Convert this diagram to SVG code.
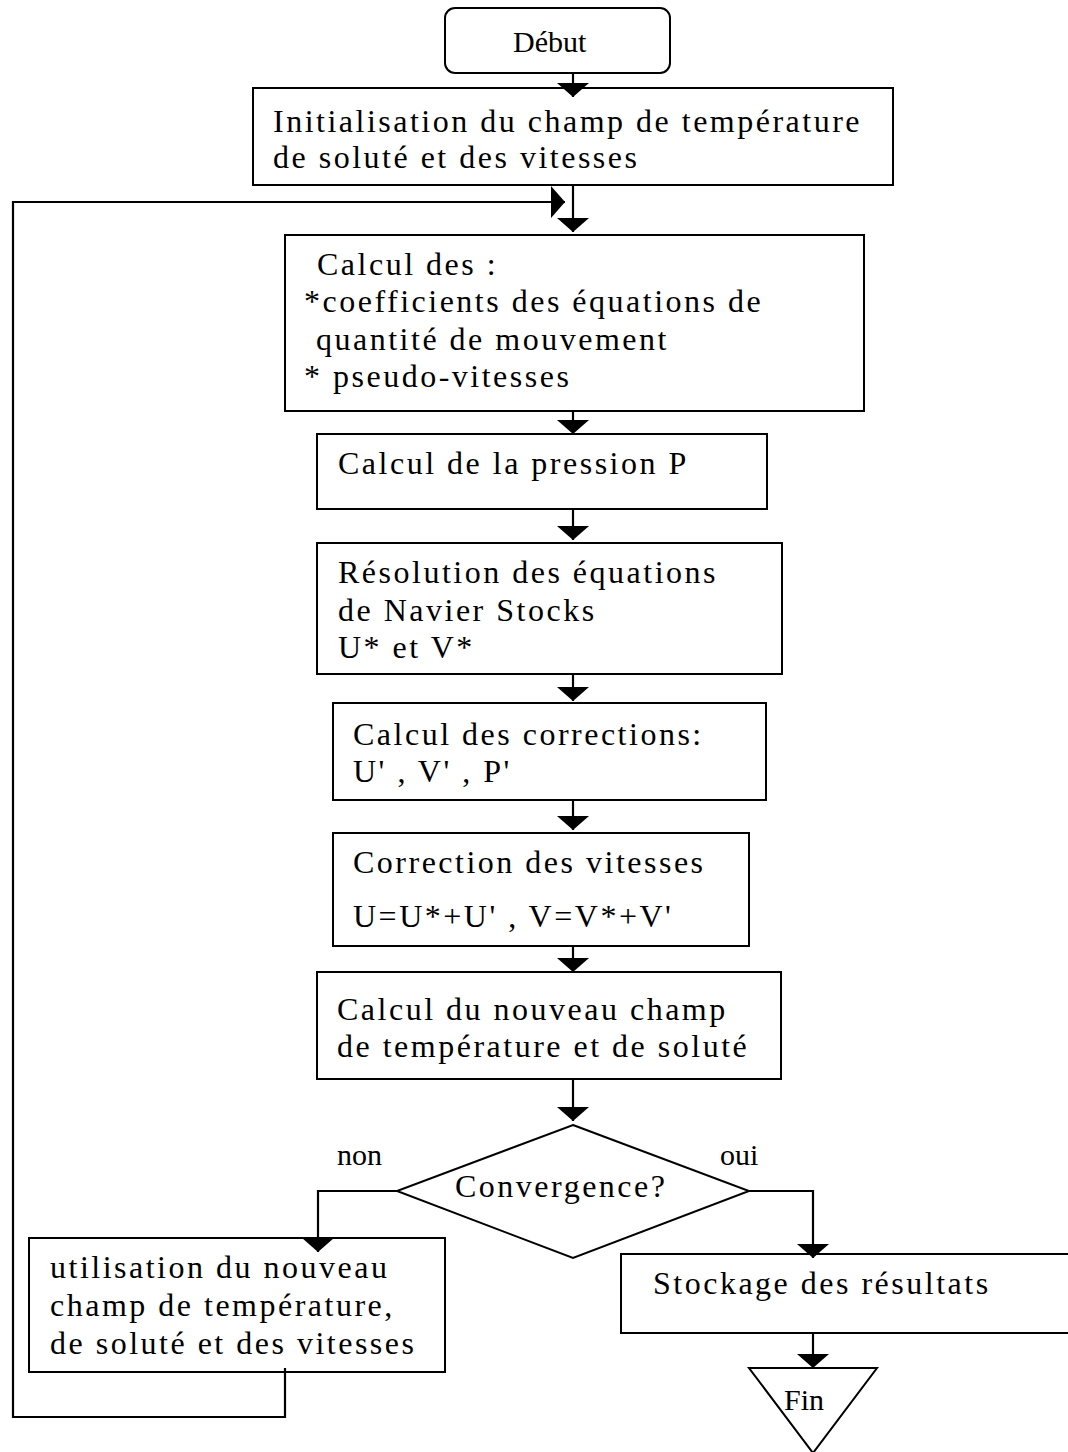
<svg xmlns="http://www.w3.org/2000/svg" width="1068" height="1452" viewBox="0 0 1068 1452">
<style>
  .box { fill: #fff; stroke: #000; stroke-width: 2; }
  .t { font-family: "Liberation Serif", "Times New Roman", serif; font-size: 32px; letter-spacing: 2.5px; fill: #000; }
  .l { font-family: "Liberation Serif", "Times New Roman", serif; font-size: 30px; fill: #000; }
  .c { fill: none; stroke: #000; stroke-width: 2.2; }
</style>
<defs>
  <marker id="ah" viewBox="0 0 14 32" markerWidth="14" markerHeight="32" refX="14" refY="16" orient="auto" markerUnits="userSpaceOnUse">
    <path d="M0,0 L14,16 L0,32 Z" fill="#000"/>
  </marker>
</defs>
<rect width="1068" height="1452" fill="#fff"/>

<g id="debut">
  <rect class="box" x="445" y="8" width="225" height="65" rx="10" ry="10"/>
  <text class="l" x="513" y="52" font-size="32">Début</text>
</g>

<g id="init">
  <rect class="box" x="253" y="88" width="640" height="97"/>
  <text class="t" x="273" y="132">Initialisation du champ de température</text>
  <text class="t" x="273" y="168">de soluté et des vitesses</text>
</g>

<g id="calcul-coeff">
  <rect class="box" x="285" y="235" width="579" height="176"/>
  <text class="t" x="317" y="275">Calcul des :</text>
  <text class="t" x="304" y="312">*coefficients des équations de</text>
  <text class="t" x="316" y="350">quantité de mouvement</text>
  <text class="t" x="304" y="387">* pseudo-vitesses</text>
</g>

<g id="pression">
  <rect class="box" x="317" y="434" width="450" height="75"/>
  <text class="t" x="338" y="474">Calcul de la pression P</text>
</g>

<g id="navier">
  <rect class="box" x="317" y="543" width="465" height="131"/>
  <text class="t" x="338" y="583">Résolution des équations</text>
  <text class="t" x="338" y="621">de Navier Stocks</text>
  <text class="t" x="338" y="658">U* et V*</text>
</g>

<g id="corrections">
  <rect class="box" x="333" y="703" width="433" height="97"/>
  <text class="t" x="353" y="745">Calcul des corrections:</text>
  <text class="t" x="353" y="782">U' , V' , P'</text>
</g>

<g id="correction-vitesses">
  <rect class="box" x="333" y="833" width="416" height="113"/>
  <text class="t" x="353" y="873">Correction des vitesses</text>
  <text class="t" x="353" y="927">U=U*+U' , V=V*+V'</text>
</g>

<g id="nouveau-champ">
  <rect class="box" x="317" y="972" width="464" height="107"/>
  <text class="t" x="337" y="1020">Calcul du nouveau champ</text>
  <text class="t" x="337" y="1057">de température et de soluté</text>
</g>

<g id="convergence">
  <polygon class="box" points="573,1125 749,1191 573,1258 397,1191"/>
  <text class="t" x="455" y="1197" letter-spacing="2.3">Convergence?</text>
  <text class="l" x="337" y="1165">non</text>
  <text class="l" x="720" y="1165">oui</text>
</g>

<g id="utilisation">
  <rect class="box" x="29" y="1238" width="416" height="134"/>
  <text class="t" x="50" y="1278">utilisation du nouveau</text>
  <text class="t" x="50" y="1316">champ de température,</text>
  <text class="t" x="50" y="1354">de soluté et des vitesses</text>
</g>

<g id="stockage">
  <rect class="box" x="621" y="1254" width="460" height="79"/>
  <text class="t" x="653" y="1294">Stockage des résultats</text>
</g>

<g id="fin">
  <polygon class="box" points="749,1368 877,1368 813,1453"/>
  <text class="l" x="784" y="1410" font-size="35">Fin</text>
</g>

<g id="connectors">
  <line class="c" x1="573" y1="73" x2="573" y2="97" marker-end="url(#ah)"/>
  <line class="c" x1="573" y1="185" x2="573" y2="232" marker-end="url(#ah)"/>
  <polyline class="c" points="285,1368 285,1417 13,1417 13,202 565,202" marker-end="url(#ah)"/>
  <line class="c" x1="573" y1="411" x2="573" y2="434" marker-end="url(#ah)"/>
  <line class="c" x1="573" y1="509" x2="573" y2="540" marker-end="url(#ah)"/>
  <line class="c" x1="573" y1="674" x2="573" y2="701" marker-end="url(#ah)"/>
  <line class="c" x1="573" y1="800" x2="573" y2="830" marker-end="url(#ah)"/>
  <line class="c" x1="573" y1="946" x2="573" y2="972" marker-end="url(#ah)"/>
  <line class="c" x1="573" y1="1079" x2="573" y2="1121" marker-end="url(#ah)"/>
  <polyline class="c" points="397,1191 318,1191 318,1252" marker-end="url(#ah)"/>
  <polyline class="c" points="749,1191 813,1191 813,1258" marker-end="url(#ah)"/>
  <line class="c" x1="813" y1="1333" x2="813" y2="1368" marker-end="url(#ah)"/>
</g>
</svg>
